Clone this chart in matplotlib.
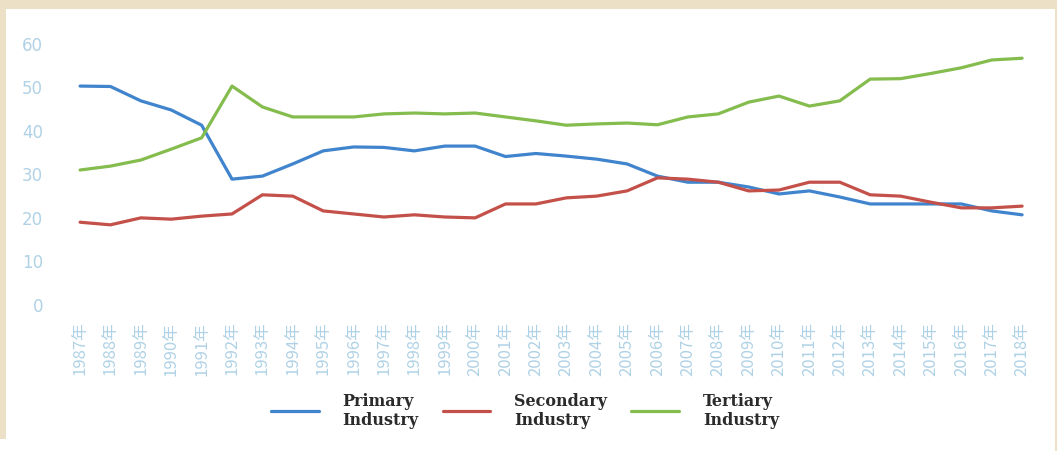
import matplotlib
matplotlib.use("Agg")
import matplotlib.pyplot as plt
from matplotlib.patches import Rectangle

# share of each industry (%), 1987-2018
years = list(range(1987, 2019))
year_labels = [f"{y}年" for y in years]

primary = [50.1, 50.0, 46.7, 44.6, 41.1, 28.7, 29.4, 32.2, 35.2, 36.1,
           36.0, 35.2, 36.3, 36.3, 33.9, 34.6, 34.0, 33.3, 32.2, 29.4,
           28.0, 28.0, 26.9, 25.3, 26.0, 24.6, 23.0, 23.0, 23.0, 23.0,
           21.4, 20.5]
secondary = [18.8, 18.2, 19.8, 19.5, 20.2, 20.7, 25.1, 24.8, 21.4, 20.7,
             20.0, 20.5, 20.0, 19.8, 23.0, 23.0, 24.4, 24.8, 26.0, 29.0,
             28.7, 28.0, 26.0, 26.2, 28.0, 28.0, 25.1, 24.8, 23.4, 22.1,
             22.1, 22.5]
tertiary = [30.8, 31.7, 33.1, 35.6, 38.2, 50.1, 45.3, 43.0, 43.0, 43.0,
            43.7, 43.9, 43.7, 43.9, 43.0, 42.1, 41.1, 41.4, 41.6, 41.2,
            43.0, 43.7, 46.4, 47.8, 45.5, 46.7, 51.7, 51.8, 53.0, 54.3,
            56.1, 56.5]

series_names = ["Primary\nIndustry", "Secondary\nIndustry", "Tertiary\nIndustry"]
colors = ["#3F84CC", "#C4504A", "#84BC4E"]
tick_color = "#B0D2E6"
beige = "#ECE1C6"

fig = plt.figure(figsize=(10.57, 4.52), dpi=100)
fig.patch.set_facecolor("white")

# beige frame strips (top band, left strip, thin right edge)
fig.patches.append(Rectangle((0, 1 - 10 / 452), 1, 10 / 452, transform=fig.transFigure,
                             facecolor=beige, edgecolor="none", zorder=0))
fig.patches.append(Rectangle((0, 12 / 452), 6 / 1057, 1, transform=fig.transFigure,
                             facecolor=beige, edgecolor="none", zorder=0))
fig.patches.append(Rectangle((1 - 2 / 1057, 0), 2 / 1057, 1, transform=fig.transFigure,
                             facecolor=beige, edgecolor="none", zorder=0))

ax = fig.add_axes([50 / 1057, (452 - 305) / 452, (1037 - 50) / 1057, (305 - 44) / 452])
ax.set_facecolor("none")

x = list(range(len(years)))
for vals, name, c in zip([primary, secondary, tertiary], series_names, colors):
    ax.plot(x, vals, color=c, lw=2.3, label=name, solid_capstyle="round")

ax.set_xlim(-0.99, 31.49)
ax.set_ylim(0, 60)
ax.set_yticks(range(0, 61, 10))
ax.set_xticks(x)
ax.set_xticklabels(year_labels, rotation=90, fontsize=12,
                   family=["Noto Sans CJK SC", "DejaVu Sans"])
for lab in ax.get_yticklabels():
    lab.set_fontsize(12)
    lab.set_family(["DejaVu Sans"])

ax.tick_params(axis="y", length=0, pad=5, colors=tick_color)
ax.tick_params(axis="x", length=0, pad=12, colors=tick_color)
for s in ax.spines.values():
    s.set_visible(False)

fig.legend(loc="center", bbox_to_anchor=(525 / 1057, (452 - 411) / 452), ncol=3,
           frameon=False, handlelength=3.0, handletextpad=1.5, columnspacing=1.5,
           prop={"family": "DejaVu Serif", "weight": "bold", "size": 11.5},
           labelcolor="#2B2B2B", labelspacing=0.2)

fig.savefig("out.png", dpi=100)
